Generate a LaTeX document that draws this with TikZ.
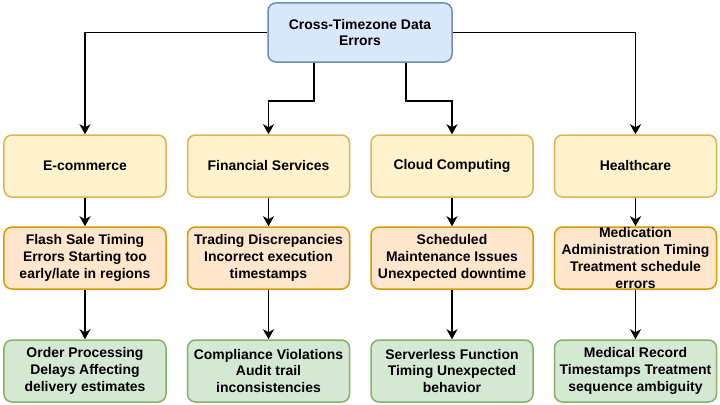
\documentclass[tikz,border=0pt]{standalone}
\usepackage{fontspec}
\setmainfont{Liberation Sans}
\usetikzlibrary{arrows.meta}
\definecolor{rootfill}{HTML}{DAE8FC}\definecolor{rootline}{HTML}{6C8EBF}
\definecolor{catfill}{HTML}{FFF2CC}\definecolor{catline}{HTML}{D6B656}
\definecolor{errfill}{HTML}{FFE6CC}\definecolor{errline}{HTML}{D79B00}
\definecolor{effill}{HTML}{D5E8D4}\definecolor{efline}{HTML}{82B366}
\begin{document}
\begin{tikzpicture}[x=1bp,y=1bp,>={Stealth[length=10bp,width=11bp,inset=3bp]},
  box/.style={rounded corners=8bp,line width=1.5bp,minimum width=162bp,minimum height=62bp,
    align=center,font=\bfseries\fontsize{14}{17}\selectfont,inner sep=2bp},
  rootbox/.style={box,fill=rootfill,draw=rootline,minimum width=184bp,minimum height=59bp},
  catbox/.style={box,fill=catfill,draw=catline},
  errbox/.style={box,fill=errfill,draw=errline},
  effbox/.style={box,fill=effill,draw=efline},
  link/.style={->,line width=1.5bp}]
\useasboundingbox (0,0) rectangle (720,404);
\node[rootbox] (root) at (360,371.5) {Cross-Timezone Data\\Errors};

\node[catbox] (ecom) at (85,238) {E-commerce};
\node[catbox] (fin) at (268.5,238) {Financial Services};
\node[catbox] (cloud) at (452,238) {Cloud Computing};
\node[catbox] (health) at (635.5,238) {Healthcare};

\node[errbox] (flash) at (85,146) {Flash Sale Timing\\Errors Starting too\\early/late in regions};
\node[errbox] (trade) at (268.5,146) {Trading Discrepancies\\Incorrect execution\\timestamps};
\node[errbox] (maint) at (452,146) {Scheduled\\Maintenance Issues\\Unexpected downtime};
\node[errbox,inner ysep=-4bp] (medic) at (635.5,146) {Medication\\Administration Timing\\Treatment schedule\\errors};

\node[effbox] (order) at (85,33) {Order Processing\\Delays Affecting\\delivery estimates};
\node[effbox] (audit) at (268.5,33) {Compliance Violations\\Audit trail\\inconsistencies};
\node[effbox] (serverless) at (452,33) {Serverless Function\\Timing Unexpected\\behavior};
\node[effbox] (record) at (635.5,33) {Medical Record\\Timestamps Treatment\\sequence ambiguity};

\draw[link] (root.west) -| (ecom.north);
\draw[link] (root.east) -| (health.north);
\draw[link] ([xshift=-46bp]root.south) -- ++(0,-38) -| (fin.north);
\draw[link] ([xshift=46bp]root.south) -- ++(0,-38) -| (cloud.north);
\foreach \a/\b/\c in {ecom/flash/order,fin/trade/audit,cloud/maint/serverless,health/medic/record}{
  \draw[link] (\a) -- (\b);
  \draw[link] (\b) -- (\c);
}
\end{tikzpicture}
\end{document}
